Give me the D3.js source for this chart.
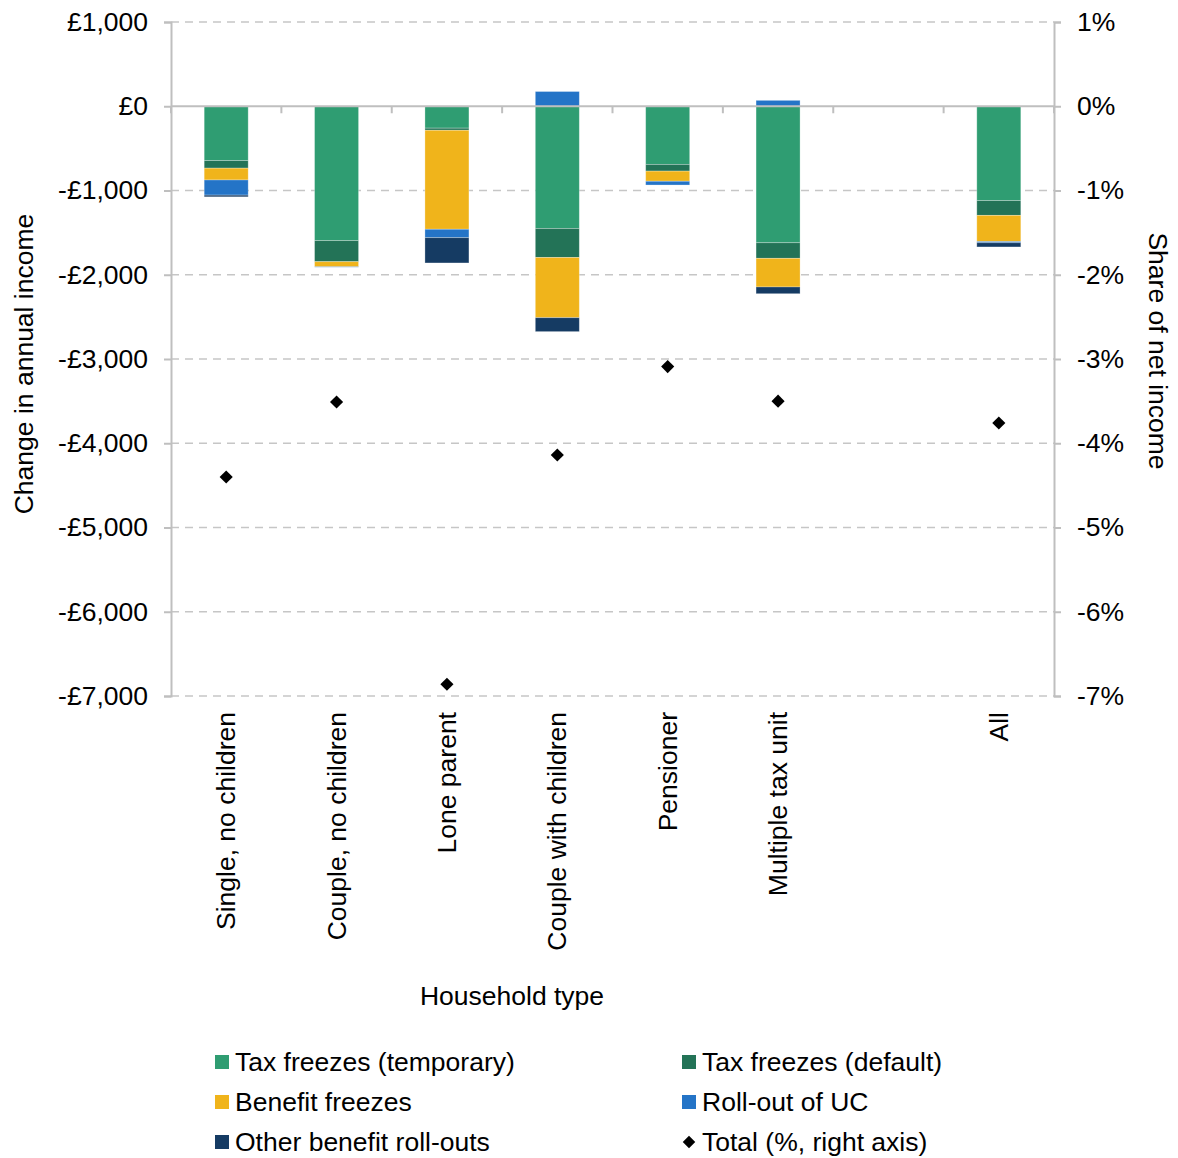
<!DOCTYPE html>
<html>
<head>
<meta charset="utf-8">
<script src="https://cdn.jsdelivr.net/npm/d3@7"></script>
<style>
  body { margin: 0; background: #fff; }
  text { font-family: "Liberation Sans", Arial, sans-serif; fill: #000; }
</style>
</head>
<body>
<div id="chart"></div>
<script>
// categories (blank slot between Multiple tax unit and All)
const categories = ["Single, no children", "Couple, no children", "Lone parent", "Couple with children", "Pensioner", "Multiple tax unit", "", "All"];
const seriesNames = ["Tax freezes (temporary)", "Tax freezes (default)", "Benefit freezes", "Roll-out of UC", "Other benefit roll-outs"];
const taxTemporary = [-645, -1595, -260, -1450, -690, -1620, null, -1120];
const taxDefault   = [-90, -250, -25, -345, -80, -185, null, -175];
const benefitFreeze = [-140, -60, -1175, -715, -120, -340, null, -310];
const rolloutUC    = [-180, -5, -100, 175, -45, 70, null, -15];
const otherRollout = [-20, 0, -300, -165, 0, -80, null, -50];
const totalPct     = [-4.40, -3.51, -6.86, -4.14, -3.09, -3.50, null, -3.76];
const leftTicks = [1000, 0, -1000, -2000, -3000, -4000, -5000, -6000, -7000];
const rightTicks = [1, 0, -1, -2, -3, -4, -5, -6, -7];
const colors = ["#2f9d72", "#237357", "#f0b41b", "#2474c7", "#153b63"];

const width = 1178, height = 1158;
const m = {left: 171, right: 1054, top: 22, bottom: 696};
const fs = 26.5;

const svg = d3.select("#chart").append("svg")
  .attr("width", width).attr("height", height);

const x = d3.scaleBand().domain(d3.range(categories.length)).range([m.left, m.right]).paddingInner(0).paddingOuter(0);
const y = d3.scaleLinear().domain([-7000, 1000]).range([m.bottom, m.top]);
const y2 = d3.scaleLinear().domain([-7, 1]).range([m.bottom, m.top]);
const barW = 44;

// gridlines
svg.append("g").selectAll("line")
  .data(leftTicks.filter(d => d !== 0))
  .join("line")
  .attr("x1", m.left).attr("x2", m.right)
  .attr("y1", d => y(d)).attr("y2", d => y(d))
  .attr("stroke", "#c6c6c6").attr("stroke-width", 1.6)
  .attr("stroke-dasharray", "8,6");

// stacked bars, positives and negatives stacked separately
const series = [taxTemporary, taxDefault, benefitFreeze, rolloutUC, otherRollout];
categories.forEach((c, i) => {
  if (series[0][i] == null) return;
  let neg = 0, pos = 0;
  series.forEach((s, k) => {
    const v = s[i];
    if (!v) return;
    let y0, y1;
    if (v < 0) { y0 = neg; y1 = neg + v; neg = y1; }
    else { y0 = pos; y1 = pos + v; pos = y1; }
    svg.append("rect")
      .attr("x", x(i) + x.bandwidth() / 2 - barW / 2)
      .attr("width", barW)
      .attr("y", y(Math.max(y0, y1)))
      .attr("height", Math.abs(y(y0) - y(y1)))
      .attr("fill", colors[k])
      .attr("stroke", "rgba(255,255,255,0.35)")
      .attr("stroke-width", 0.8);
  });
});

// zero line axis with category ticks
const axisCol = "#bfbfbf";
svg.append("line").attr("x1", m.left).attr("x2", m.right)
  .attr("y1", y(0)).attr("y2", y(0)).attr("stroke", axisCol).attr("stroke-width", 2);
svg.append("g").selectAll("line")
  .data(d3.range(categories.length + 1))
  .join("line")
  .attr("x1", d => m.left + d * x.bandwidth()).attr("x2", d => m.left + d * x.bandwidth())
  .attr("y1", y(0)).attr("y2", y(0) + 7)
  .attr("stroke", axisCol).attr("stroke-width", 2);

// left axis
const leftAxis = svg.append("g").attr("transform", `translate(${m.left},0)`)
  .call(d3.axisLeft(y).tickValues(leftTicks).tickSize(7).tickPadding(16)
    .tickFormat(d => (d < 0 ? "-" : "") + "£" + d3.format(",")(Math.abs(d))));
// right axis
const rightAxis = svg.append("g").attr("transform", `translate(${m.right},0)`)
  .call(d3.axisRight(y2).tickValues(rightTicks).tickSize(7).tickPadding(16)
    .tickFormat(d => d + "%"));
[leftAxis, rightAxis].forEach(a => {
  a.select(".domain").attr("stroke", axisCol).attr("stroke-width", 2);
  a.selectAll(".tick line").attr("stroke", axisCol).attr("stroke-width", 2);
  a.selectAll(".tick text").attr("font-size", fs)
    .attr("font-family", "Liberation Sans, Arial, sans-serif").attr("fill", "#000");
});

// diamonds
svg.append("g").selectAll("path")
  .data(totalPct.map((v, i) => [i, v]).filter(d => d[1] != null))
  .join("path")
  .attr("d", d3.symbol(d3.symbolDiamond2, 110))
  .attr("transform", d => `translate(${x(d[0]) + x.bandwidth() / 2},${y2(d[1])})`)
  .attr("fill", "#000");

// category labels
svg.append("g").selectAll("text")
  .data(categories.map((c, i) => [i, c]).filter(d => d[1]))
  .join("text")
  .attr("transform", d => `translate(${x(d[0]) + x.bandwidth() / 2 + 9},712) rotate(-90)`)
  .attr("text-anchor", "end")
  .attr("font-size", fs)
  .text(d => d[1]);

// axis titles
svg.append("text").attr("transform", "translate(33,364) rotate(-90)")
  .attr("text-anchor", "middle").attr("font-size", fs).text("Change in annual income");
svg.append("text").attr("transform", "translate(1149,351) rotate(90)")
  .attr("text-anchor", "middle").attr("font-size", fs).text("Share of net income");
svg.append("text").attr("x", 512).attr("y", 1005)
  .attr("text-anchor", "middle").attr("font-size", fs).text("Household type");

// legend
const legendItems = [
  {name: seriesNames[0], col: 0, row: 0, type: "rect", color: colors[0]},
  {name: seriesNames[1], col: 1, row: 0, type: "rect", color: colors[1]},
  {name: seriesNames[2], col: 0, row: 1, type: "rect", color: colors[2]},
  {name: seriesNames[3], col: 1, row: 1, type: "rect", color: colors[3]},
  {name: seriesNames[4], col: 0, row: 2, type: "rect", color: colors[4]},
  {name: "Total (%, right axis)", col: 1, row: 2, type: "diamond", color: "#000"}
];
const lg = svg.append("g").selectAll("g").data(legendItems).join("g")
  .attr("transform", d => `translate(${d.col ? 682 : 215},${1062 + d.row * 40})`);
lg.filter(d => d.type === "rect").append("rect")
  .attr("x", 0).attr("y", -7).attr("width", 14).attr("height", 14)
  .attr("fill", d => d.color);
lg.filter(d => d.type === "diamond").append("path")
  .attr("d", d3.symbol(d3.symbolDiamond2, 100))
  .attr("transform", "translate(7,0)").attr("fill", "#000");
lg.append("text").attr("x", 20).attr("y", 9).attr("font-size", fs).text(d => d.name);
</script>
</body>
</html>
